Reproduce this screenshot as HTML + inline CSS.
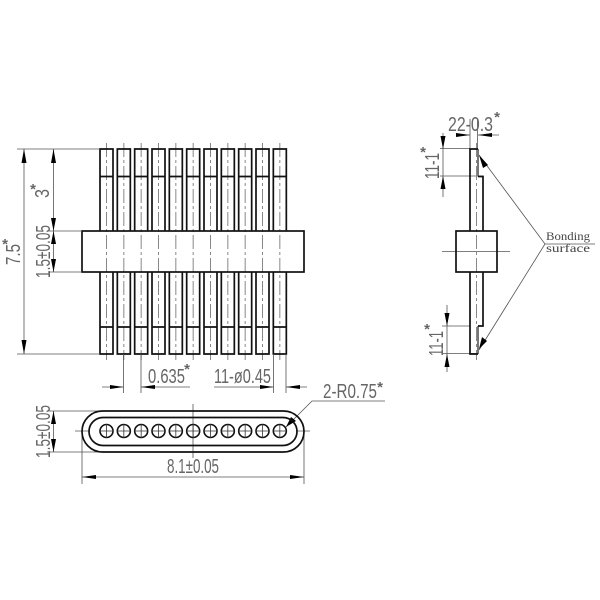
<!DOCTYPE html>
<html>
<head>
<meta charset="utf-8">
<style>
html,body{margin:0;padding:0;background:#fff;width:600px;height:600px;overflow:hidden}
svg{display:block}
text{font-family:"Liberation Sans",sans-serif;fill:#666}
</style>
</head>
<body>
<svg width="600" height="600" viewBox="0 0 600 600" xmlns="http://www.w3.org/2000/svg">
<defs>
<g id="pin">
<path d="M0 143V360" stroke="#888" stroke-width="1" stroke-dasharray="14 3 3 3" fill="none"/>
<path d="M-6.500 231V149H6.500V231M-6.500 176.500H6.500M-6.500 272V354H6.500V272M-6.500 327H6.500" fill="none" stroke="#111" stroke-width="1.700"/>
</g>
<g id="hole">
<circle r="6.500" cy="431" fill="none" stroke="#111" stroke-width="1.600"/>
<path d="M-6.500 431H6.500M0 424V438" stroke="#333" stroke-width=".8"/>
</g>
</defs>
<use href="#pin" x="106.500"/><use href="#pin" x="123.830"/><use href="#pin" x="141.170"/><use href="#pin" x="158.500"/><use href="#pin" x="175.830"/><use href="#pin" x="193.170"/><use href="#pin" x="210.500"/><use href="#pin" x="227.830"/><use href="#pin" x="245.170"/><use href="#pin" x="262.500"/><use href="#pin" x="279.830"/>
<rect x="82" y="231" width="222" height="41" fill="none" stroke="#111" stroke-width="1.700"/>
<g stroke="#555" stroke-width=".8" fill="none">
<path d="M17 149H100M17 354H100M48 231H82M48 272H82"/>
<path d="M24 149V354M53.500 149V272"/>
<path d="M123.500 354V393M141 354V393M273.500 354V393M286 354V393"/>
<path d="M102 387H123.500M141 387H190M214 387H273.500M286 387H307"/>
<path d="M47 411H100M47 452H100"/>
<path d="M53.500 411V452"/>
<path d="M82 431V484M304 431V484M82 477H304"/>
<path d="M75 431H90M296 431H310M193 404V458"/>
<path d="M286 427L312 401H385"/>
<path d="M470 119V149M477.500 119V149M440 148.500H470M440 176H483M442 326H470M442 353.500H478"/>
<path d="M443 133V197M447 305V372"/>
<path d="M456 135H470M478 135H499"/>
<path d="M479 155L545 244L479 350M545 244H595"/>
<path d="M442 251.500H510"/>
</g>
<g fill="#000">
<path d="M24 149L21.500 163H26.500ZM24 354L21.500 340H26.500Z"/>
<path d="M53.500 149L51 163H56ZM53.500 231L51 218H56ZM53.500 231L51 244H56ZM53.500 272L51 259H56Z"/>
<path d="M123.500 387L110 385V389ZM141 387L155 385V389ZM273.500 387L260 385V389ZM286 387L300 385V389Z"/>
<path d="M53.500 411L51 424H56ZM53.500 452L51 439H56Z"/>
<path d="M82 477L96 475V479ZM304 477L290 475V479Z"/>
<path d="M286 427L291 417L296 421Z"/>
<path d="M470 135L456 133V137ZM478 135L492 133V137Z"/>
<path d="M443 149L440.500 136H445.500ZM443 176L440.500 189H445.500ZM447 326L444.500 313H449.500ZM447 354L444.500 367H449.500Z"/>
<path d="M479 155L488 165L483 168ZM479 349L482 337L487 341Z"/>
</g>
<rect x="82" y="411" width="222" height="41" rx="20.500" fill="none" stroke="#111" stroke-width="1.700"/>
<rect x="89" y="417.500" width="208" height="28" rx="14" fill="none" stroke="#111" stroke-width="1.700"/>
<use href="#hole" x="106.500"/><use href="#hole" x="123.830"/><use href="#hole" x="141.170"/><use href="#hole" x="158.500"/><use href="#hole" x="175.830"/><use href="#hole" x="193.170"/><use href="#hole" x="210.500"/><use href="#hole" x="227.830"/><use href="#hole" x="245.170"/><use href="#hole" x="262.500"/><use href="#hole" x="279.830"/>
<path d="M476.500 143V360" stroke="#888" stroke-width="1" stroke-dasharray="14 3 3 3" fill="none"/>
<path d="M478 149V176.500M478 326V354" stroke="#777" stroke-width="2" fill="none"/>
<g fill="none" stroke="#111" stroke-width="1.700">
<path d="M470 231V149H478M478 176.500H483V231M470 272V354H478M478 326H483V272"/>
<rect x="456" y="231" width="41" height="41"/>
</g>
<g font-size="20">
<text transform="translate(20,265) rotate(-90)" textLength="21" lengthAdjust="spacingAndGlyphs">7.5</text>
<text transform="translate(49,198) rotate(-90)" textLength="9" lengthAdjust="spacingAndGlyphs">3</text>
<text transform="translate(50,278) rotate(-90)" textLength="53" lengthAdjust="spacingAndGlyphs">1.5±0.05</text>
<text x="148" y="383" textLength="37" lengthAdjust="spacingAndGlyphs">0.635</text>
<text x="214" y="383" textLength="57" lengthAdjust="spacingAndGlyphs">11-ø0.45</text>
<text transform="translate(50,458) rotate(-90)" textLength="53" lengthAdjust="spacingAndGlyphs">1.5±0.05</text>
<text x="167" y="473" textLength="52" lengthAdjust="spacingAndGlyphs">8.1±0.05</text>
<text x="323" y="398" textLength="54" lengthAdjust="spacingAndGlyphs">2-R0.75</text>
<text x="448" y="131" textLength="45" lengthAdjust="spacingAndGlyphs">22-0.3</text>
<text transform="translate(439,179) rotate(-90)" textLength="26" lengthAdjust="spacingAndGlyphs">11-1</text>
<text transform="translate(443,356) rotate(-90)" textLength="25" lengthAdjust="spacingAndGlyphs">11-1</text>
</g>
<g font-size="15" font-weight="bold" text-anchor="middle">
<text x="33" y="194">*</text>
<text x="5" y="249">*</text>
<text x="187" y="374">*</text>
<text x="380" y="392">*</text>
<text x="497" y="122">*</text>
<text x="423" y="157">*</text>
<text x="427" y="334">*</text>
</g>
<g style="font-size:12px">
<text x="546" y="240" style="font-family:'Liberation Serif',serif;fill:#444" textLength="44" lengthAdjust="spacingAndGlyphs">Bonding</text>
<text x="546" y="252" style="font-family:'Liberation Serif',serif;fill:#444" textLength="44" lengthAdjust="spacingAndGlyphs">surface</text>
</g>
</svg>
</body>
</html>
